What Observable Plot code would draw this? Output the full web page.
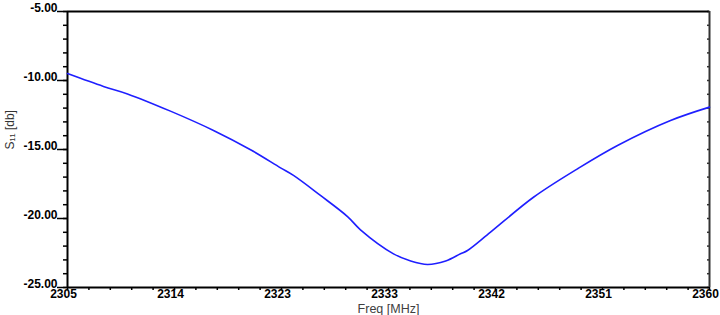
<!DOCTYPE html>
<html>
<head>
<meta charset="utf-8">
<script src="https://cdn.jsdelivr.net/npm/d3@7"></script>
<script src="https://cdn.jsdelivr.net/npm/@observablehq/plot@0.6"></script>
<style>
  html, body { margin: 0; padding: 0; background: #fff; }
  #chart svg { display: block; font-family: "Liberation Sans", Arial, sans-serif; }
</style>
</head>
<body>
<div id="chart"></div>
<script>
// Frequency (MHz) and S11 (dB)
const freq = [2305, 2308.08, 2310.14, 2313.82, 2317.51, 2320.68, 2323.25, 2324.36, 2326.67, 2328.99, 2330.10, 2332.93, 2334.4, 2335.84, 2337.4, 2338.67, 2339.27, 2341.24, 2344.92, 2348.69, 2352.12, 2356.66, 2360];
const s11  = [-9.5, -10.43, -10.97, -12.22, -13.62, -15.02, -16.33, -16.88, -18.33, -19.86, -20.82, -22.56, -23.08, -23.33, -23.08, -22.56, -22.32, -20.99, -18.46, -16.40, -14.71, -12.9, -11.93];

const xMajorTicks = [0, 1, 2, 3, 4, 5, 6].map(k => 2305 + k * 55 / 6);
const xMinorTicks = d3.range(0, 31).map(k => 2305 + k * 55 / 30);
const yMajorTicks = [-25, -20, -15, -10, -5];
const yMinorTicks = d3.range(-25, -4, 1);
const xLabel = "Freq [MHz]";
const yLabel = "S\u2081\u2081 [db]";

const data = freq.map((f, i) => ({f, v: s11[i]}));

const chart = Plot.plot({
  width: 720,
  height: 315,
  marginLeft: 67,
  marginRight: 11,
  marginTop: 11,
  marginBottom: 28,
  style: {fontFamily: "Liberation Sans, Arial, sans-serif", background: "#fff"},
  x: {domain: [2305, 2360], label: null},
  y: {domain: [-25, -5], label: null},
  marks: [
    // minor y ticks (left, outward)
    Plot.axisY({ticks: yMinorTicks, tickSize: 4, text: null, stroke: "#000", strokeWidth: 1.5, label: null}),
    // major y ticks with labels above the tick line
    Plot.axisY({ticks: yMajorTicks, tickSize: 10, tickPadding: 0, tickFormat: d => d.toFixed(2),
      lineAnchor: "bottom", dy: 0, fontSize: 12, fontWeight: "bold", fill: "#000", stroke: "#000", strokeWidth: 1.5, label: null}),
    // right border inner ticks
    Plot.axisY({anchor: "right", ticks: yMinorTicks, tickSize: 3, dx: -3, text: null, stroke: "#333", strokeWidth: 1.5, label: null}),
    // x ticks
    Plot.axisX({ticks: xMinorTicks, tickSize: 3, text: null, stroke: "#000", strokeWidth: 1.5, label: null}),
    Plot.axisX({ticks: xMajorTicks, tickSize: 0, tickPadding: 2, tickFormat: d => String(Math.round(d)),
      lineAnchor: "top", dx: -4, fontSize: 12, fontWeight: "bold", fill: "#000", label: null}),
    // frame
    Plot.ruleY([-5], {stroke: "#000", strokeWidth: 2}),
    Plot.ruleY([-25], {stroke: "#000", strokeWidth: 2}),
    Plot.ruleX([2305], {stroke: "#000", strokeWidth: 2}),
    Plot.ruleX([2360], {stroke: "#333", strokeWidth: 2}),
    // curve
    Plot.line(data, {x: "f", y: "v", stroke: "#1f1fff", strokeWidth: 1.6, curve: "catmull-rom"}),
    // axis titles
    Plot.text([xLabel], {frameAnchor: "bottom", dy: 25, lineAnchor: "bottom", fontSize: 12.5, fill: "#404040", text: d => d}),
    Plot.text([yLabel], {frameAnchor: "left", dx: -57, rotate: -90, fontSize: 12, fill: "#333", text: d => d})
  ]
});
document.getElementById("chart").appendChild(chart);
</script>
</body>
</html>
